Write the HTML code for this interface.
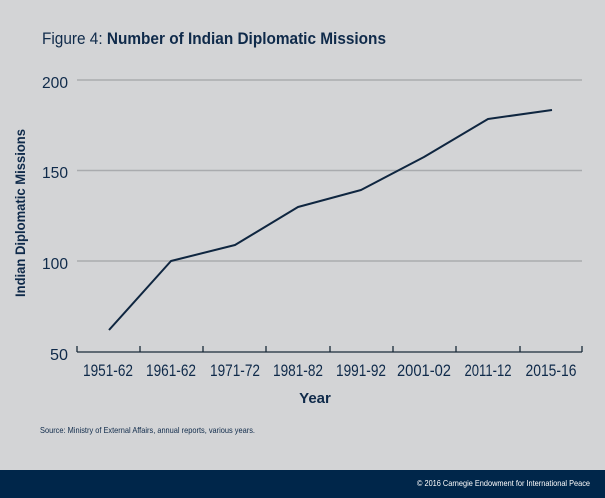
<!DOCTYPE html>
<html><head><meta charset="utf-8"><style>
html,body{margin:0;padding:0;background:#d3d4d6;}
svg{display:block;font-family:"Liberation Sans",sans-serif;}
</style></head><body>
<svg width="605" height="498" viewBox="0 0 605 498" xmlns="http://www.w3.org/2000/svg">
<rect width="605" height="498" fill="#d3d4d6"/>
<text x="42" y="44" font-size="17" fill="#0f2a4a" textLength="344" lengthAdjust="spacingAndGlyphs">Figure 4: <tspan font-weight="bold">Number of Indian Diplomatic Missions</tspan></text>
<g stroke="#a9abae" stroke-width="1.5">
<line x1="77" y1="80" x2="582" y2="80"/>
<line x1="77" y1="170.5" x2="582" y2="170.5"/>
<line x1="77" y1="261" x2="582" y2="261"/>
</g>
<g stroke="#1a2a3a" stroke-width="1.3">
<line x1="77" y1="352" x2="582" y2="352"/>
<line x1="77" y1="346" x2="77" y2="352"/>
<line x1="140" y1="346" x2="140" y2="352"/>
<line x1="203" y1="346" x2="203" y2="352"/>
<line x1="266" y1="346" x2="266" y2="352"/>
<line x1="330" y1="346" x2="330" y2="352"/>
<line x1="393" y1="346" x2="393" y2="352"/>
<line x1="456" y1="346" x2="456" y2="352"/>
<line x1="520" y1="346" x2="520" y2="352"/>
<line x1="582" y1="346" x2="582" y2="352"/>
</g>
<g font-size="16" fill="#0f2a4a" text-anchor="end">
<text x="68" y="88" textLength="26" lengthAdjust="spacingAndGlyphs">200</text>
<text x="68" y="178" textLength="26" lengthAdjust="spacingAndGlyphs">150</text>
<text x="68" y="269" textLength="26" lengthAdjust="spacingAndGlyphs">100</text>
<text x="68" y="360" textLength="18" lengthAdjust="spacingAndGlyphs">50</text>
</g>
<g font-size="16.5" fill="#0f2a4a" text-anchor="middle">
<text x="108" y="376" textLength="50" lengthAdjust="spacingAndGlyphs">1951-62</text>
<text x="171" y="376" textLength="50" lengthAdjust="spacingAndGlyphs">1961-62</text>
<text x="235" y="376" textLength="50" lengthAdjust="spacingAndGlyphs">1971-72</text>
<text x="298" y="376" textLength="50" lengthAdjust="spacingAndGlyphs">1981-82</text>
<text x="361" y="376" textLength="50" lengthAdjust="spacingAndGlyphs">1991-92</text>
<text x="424" y="376" textLength="54" lengthAdjust="spacingAndGlyphs">2001-02</text>
<text x="488" y="376" textLength="47" lengthAdjust="spacingAndGlyphs">2011-12</text>
<text x="551" y="376" textLength="51" lengthAdjust="spacingAndGlyphs">2015-16</text>
</g>
<text x="315" y="403" font-size="15" font-weight="bold" fill="#0f2a4a" text-anchor="middle">Year</text>
<text transform="translate(25,213) rotate(-90)" font-size="14" font-weight="bold" fill="#0f2a4a" text-anchor="middle" textLength="168" lengthAdjust="spacingAndGlyphs">Indian Diplomatic Missions</text>
<polyline fill="none" stroke="#0f2640" stroke-width="2" stroke-linejoin="round" points="109,330 171,261 235,245 298,207 361,190 424,157 488,119 552,110"/>
<text x="40" y="433" font-size="8.5" fill="#0f2a4a" textLength="215" lengthAdjust="spacingAndGlyphs">Source: Ministry of External Affairs, annual reports, various years.</text>
<rect x="0" y="470" width="605" height="28" fill="#00264a"/>
<text x="590" y="486" font-size="8.5" fill="#ffffff" text-anchor="end" textLength="173" lengthAdjust="spacingAndGlyphs">© 2016 Carnegie Endowment for International Peace</text>
</svg>
</body></html>
